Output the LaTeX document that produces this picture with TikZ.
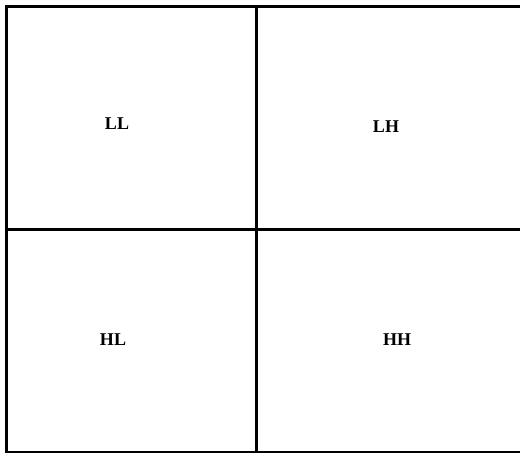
\documentclass[tikz,border=0pt]{standalone}
\usepackage{fontspec}
\setmainfont{Liberation Serif}
\begin{document}
\begin{tikzpicture}[x=1pt,y=-1pt,
  cell/.style={draw=black,line width=2.5pt},
  lab/.style={font=\fontsize{18}{20}\selectfont\bfseries,inner sep=0pt}]
\useasboundingbox (0,0) rectangle (520,454);
\draw[cell] (6.5,6.5) rectangle (530,452);
\coordinate (vt) at (256.5,6.5);
\coordinate (vb) at (256.5,452);
\coordinate (hl) at (6.5,229.5);
\coordinate (hr) at (530,229.5);
\draw[cell] (vt) -- (vb);
\draw[cell] (hl) -- (hr);
\node[lab] (ll) at (117,124) {LL};
\node[lab] (lh) at (386,127) {LH};
\node[lab] (hl2) at (113,340) {HL};
\node[lab] (hh) at (397,340) {HH};
\end{tikzpicture}
\end{document}
